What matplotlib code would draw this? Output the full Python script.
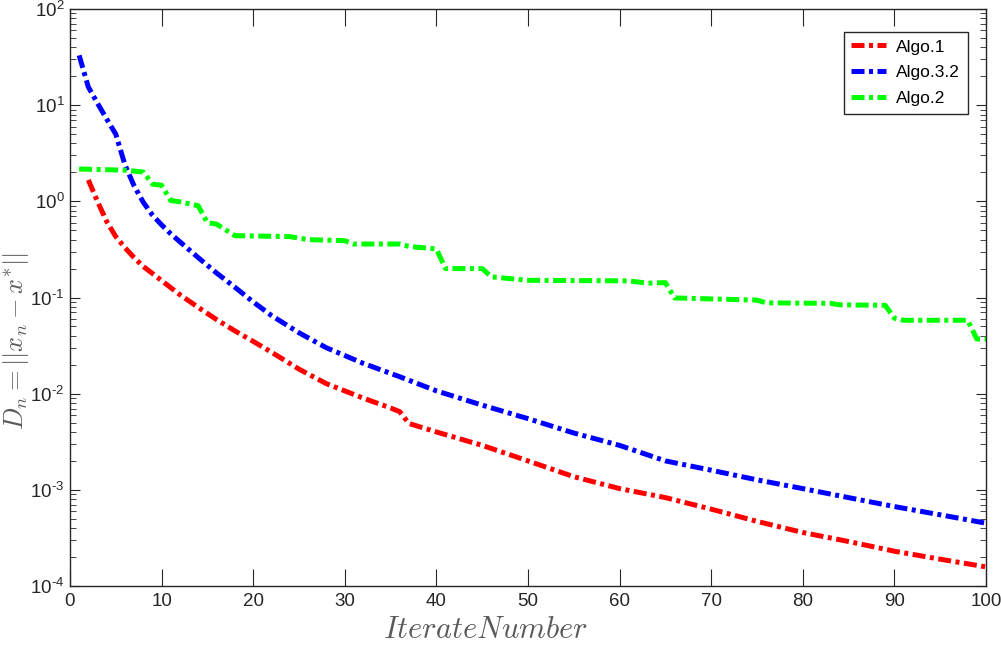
import matplotlib
matplotlib.use('Agg')
import matplotlib.pyplot as plt
import numpy as np

# values
it_red = [2, 3, 4, 5, 6, 7, 8, 9, 10, 12, 14, 16, 18, 20, 22, 25, 28, 32, 35, 36,
          37, 40, 45, 50, 55, 60, 65, 70, 75, 80, 85, 90, 95, 100]
d_red = [1.67, 1.0, 0.62, 0.43, 0.33, 0.26, 0.21, 0.178, 0.15, 0.107, 0.079, 0.059,
         0.045, 0.035, 0.027, 0.018, 0.0127, 0.0090, 0.0071, 0.0065,
         0.0049, 0.0040, 0.0029, 0.0020, 0.00137, 0.00103, 0.00083, 0.00063,
         0.00047, 0.00036, 0.00029, 0.00023, 0.00019, 0.000158]

it_blue = [1, 2, 3, 4, 5, 6, 7, 8, 9, 10, 11, 12, 14, 16, 18, 20, 22, 25, 28, 32,
           36, 40, 45, 50, 55, 60, 65, 70, 75, 80, 85, 90, 95, 100]
d_blue = [33, 15.5, 10.5, 7.2, 5.0, 2.4, 1.45, 0.98, 0.72, 0.57, 0.46, 0.38, 0.26,
          0.18, 0.128, 0.090, 0.065, 0.043, 0.030, 0.0207, 0.0150, 0.0107, 0.0076,
          0.0055, 0.0039, 0.0029, 0.0020, 0.00160, 0.00127, 0.00103, 0.00083,
          0.00067, 0.00055, 0.00045]

it_green = [1, 6, 8, 9, 10, 11, 12, 14, 15, 16, 18, 24, 26, 30, 31, 36, 37, 40,
            41, 45, 46, 50, 61, 63, 65, 66, 75, 76, 83, 84, 89, 90, 91, 98, 99, 100]
d_green = [2.17, 2.11, 2.02, 1.51, 1.47, 1.02, 0.99, 0.90, 0.60, 0.58, 0.44, 0.43,
           0.40, 0.39, 0.36, 0.36, 0.34, 0.32, 0.20, 0.20, 0.164, 0.151, 0.149,
           0.141, 0.143, 0.099, 0.094, 0.088, 0.087, 0.084, 0.083, 0.061, 0.058,
           0.058, 0.037, 0.037]

labels = ['Algo.1', 'Algo.3.2', 'Algo.2']
colors = ['#ff0000', '#0000ff', '#00ff00']
decades = list(range(-4, 3))

plt.rcParams['font.family'] = ['Liberation Sans', 'DejaVu Sans']
plt.rcParams['mathtext.fontset'] = 'custom'
plt.rcParams['mathtext.rm'] = 'Liberation Sans'
plt.rcParams['mathtext.it'] = 'Liberation Sans:italic'

fig = plt.figure(figsize=(10.01, 6.47), dpi=100)
ax = fig.add_axes([0.0699, 0.0943, 0.9151, 0.8917])

dash = (2.6, 0.9, 0.8, 0.9)
for xs, ys, lab, c in zip([it_red, it_blue, it_green], [d_red, d_blue, d_green], labels, colors):
    ax.plot(xs, ys, color=c, lw=3.6, dashes=dash, dash_capstyle='butt', label=lab)

ax.set_yscale('log')
ax.set_xlim(0, 100)
ax.set_ylim(1e-4, 1e2)
ax.set_xticks(np.arange(0, 101, 10))
ax.set_yticks([10.0 ** k for k in decades])
# short hyphen in the exponent, like the MATLAB labels
ax.set_yticklabels(['$\\mathregular{10^{%s}}$' % str(k).replace('-', '\u2010') for k in decades])

axcol = '#262626'
for s in ax.spines.values():
    s.set_color(axcol)
    s.set_linewidth(1.0)
ax.tick_params(axis='both', which='both', direction='in', top=True, right=True,
               colors=axcol, labelcolor='#262626', labelsize=13.5)
ax.tick_params(axis='x', which='major', length=12, pad=5)
ax.tick_params(axis='y', which='major', length=7, pad=4)
ax.tick_params(axis='y', which='minor', length=4.3)
ax.tick_params(axis='x', which='minor', bottom=False, top=False)

ax.set_xlabel('$IterateNumber$', fontsize=22, color='#5a5a5a', math_fontfamily='cm')
ax.set_ylabel('$D_n=||x_n-x^{*}||$', fontsize=19, color='#5a5a5a', math_fontfamily='cm')
ax.xaxis.set_label_coords(0.4535, -0.05)
ax.yaxis.set_label_coords(-0.043, 0.425)

leg = ax.legend(loc='upper right', bbox_to_anchor=(0.99, 0.976), fontsize=12.5,
                handlelength=2.0, handletextpad=0.6, borderpad=0.45, labelspacing=0.62,
                fancybox=False, framealpha=1, edgecolor=axcol)
leg.get_frame().set_linewidth(1.0)

fig.savefig('out.png', dpi=100)
